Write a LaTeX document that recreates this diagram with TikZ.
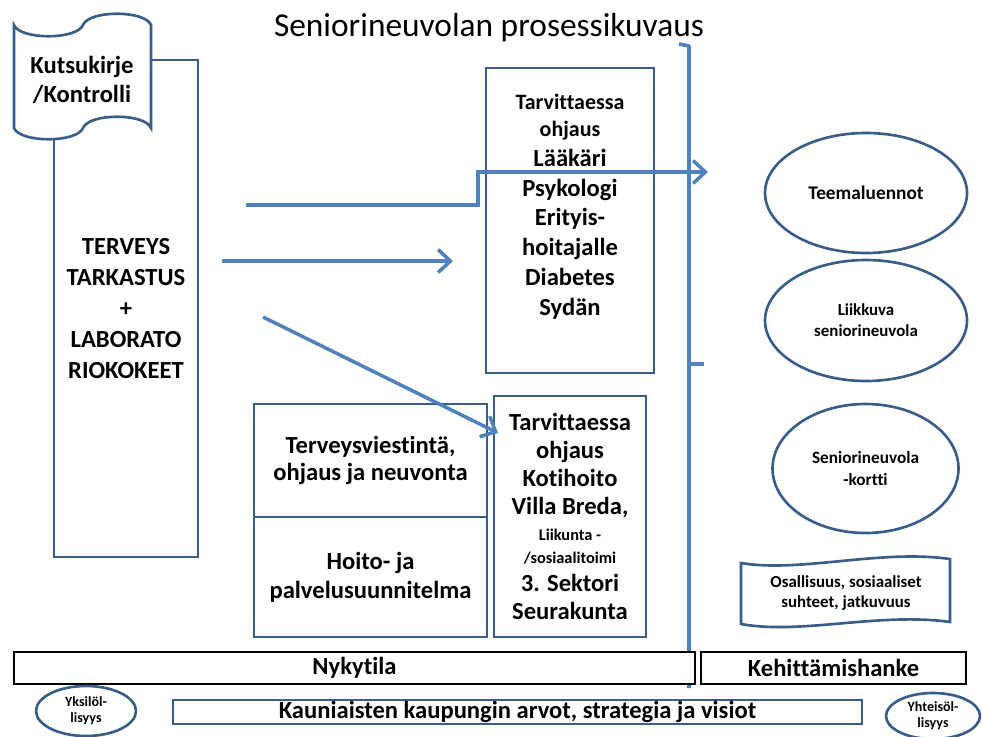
\documentclass[tikz,border=0pt]{standalone}
\usepackage{fontspec}
\setmainfont{Carlito}[Ligatures=NoCommon]
\usetikzlibrary{arrows.meta,shapes.geometric}
\definecolor{boxblue}{HTML}{385D8A}
\definecolor{linkblue}{HTML}{4F81BD}
\def\pxu{0.02cm}
\begin{document}
\begin{tikzpicture}[x=0.02cm,y=-0.02cm,
  box/.style={draw=boxblue, line width=1.5pt, fill=white, inner sep=0pt, align=center,
    font=\bfseries\fontsize{14}{16}\selectfont},
  shapeline/.style={draw=boxblue, line width=1.5pt, fill=white},
  ell/.style={ellipse, draw=boxblue, line width=1.5pt, fill=white, inner sep=0pt, align=center},
  txt/.style={font=\bfseries\fontsize{14}{17}\selectfont, align=center},
  bar/.style={draw=black, line width=1.6pt, fill=white, inner sep=0pt, align=center,
    font=\bfseries\fontsize{14}{16}\selectfont},
  conn/.style={draw=linkblue, line width=2pt},
  arr/.style={conn, -{Straight Barb[length=7pt,width=13pt,line width=2pt]}},
]
\useasboundingbox (0,0) rectangle (982,736);

% title
\node[font=\fontsize{19}{23}\selectfont] (title) at (489,28) {Seniorineuvolan prosessikuvaus};

% left column
\node[box, minimum width=144*\pxu, minimum height=497*\pxu,
  font=\bfseries\fontsize{14}{17.6}\selectfont] (tall) at (126,308.5)
  {TERVEYS\\TARKASTUS\\+\\LABORATO\\RIOKOKEET};
\draw[shapeline] (14,25) .. controls (20,40) and (77,40) .. (83,25)
  .. controls (89,10) and (145,10) .. (151,25) -- (151,128)
  .. controls (145,113) and (89,113) .. (83,128)
  .. controls (77,143) and (20,143) .. (14,128) -- cycle;
\node[txt, font=\bfseries\fontsize{14}{16.5}\selectfont] (kutsu) at (82,80) {Kutsukirje\\/Kontrolli};

% upper middle box
\node[box, minimum width=168*\pxu, minimum height=305*\pxu] (b1) at (570,220.5) {};
\node[txt] (b1t) at (570,207)
  {{\fontsize{12.5}{15}\selectfont Tarvittaessa}\\[-2pt]{\fontsize{12.5}{15}\selectfont ohjaus}\\Lääkäri\\Psykologi\\Erityis-\\hoitajalle\\Diabetes\\Sydän};

% lower boxes
\node[box, minimum width=233*\pxu, minimum height=113*\pxu,
  font=\bfseries\fontsize{14}{15}\selectfont] (b3a) at (370.5,460.5)
  {Terveysviestintä,\\ohjaus ja neuvonta};
\node[box, minimum width=233*\pxu, minimum height=120*\pxu,
  font=\bfseries\fontsize{14}{16.4}\selectfont] (b3b) at (370.5,577)
  {Hoito- ja\\palvelusuunnitelma};
\node[box, minimum width=152*\pxu, minimum height=241*\pxu] (b2) at (570,516.5)
  {Tarvittaessa\\ohjaus\\Kotihoito\\Villa Breda,\\[-1pt]{\fontsize{9.3}{11}\selectfont Liikunta -}\\[-3pt]{\fontsize{9.3}{11}\selectfont /sosiaalitoimi}\\3. Sektori\\Seurakunta};

% right column
\node[ell, minimum width=202*\pxu, minimum height=120*\pxu,
  font=\bfseries\fontsize{11}{13}\selectfont] (e1) at (866,193) {Teemaluennot};
\node[ell, minimum width=202*\pxu, minimum height=121*\pxu,
  font=\bfseries\fontsize{9.6}{12}\selectfont] (e2) at (866,320.5) {Liikkuva\\seniorineuvola};
\node[ell, minimum width=186*\pxu, minimum height=129*\pxu,
  font=\bfseries\fontsize{9.8}{12}\selectfont] (e3) at (865.5,468.5) {Seniorineuvola\\-kortti};
\draw[shapeline] (741,563) .. controls (800,573) and (880,549) .. (950,559) -- (950,622)
  .. controls (880,612) and (800,635) .. (741,624) -- cycle;
\node[font=\bfseries\fontsize{9.6}{11.5}\selectfont, align=center] (osa) at (846,593)
  {Osallisuus, sosiaaliset\\suhteet, jatkuvuus};

% brace
\draw[conn, line width=2.1pt, line join=round] (679,44) -- (689,46) -- (689,688);
\draw[conn, line width=2.1pt] (689,364) -- (704,364);

% connectors
\coordinate (a1s) at (246,205);
\coordinate (a1m) at (478,172);
\coordinate (a1e) at (708,172);
\coordinate (a2s) at (222,261);
\coordinate (a2e) at (453,261);
\coordinate (a3s) at (263,317);
\coordinate (a3e) at (498,433);
\draw[arr] (a1s) -| (a1m) -- (a1e);
\draw[arr] (a2s) -- (a2e);
\draw[arr] (a3s) -- (a3e);

% bottom bars
\node[bar, minimum width=681*\pxu, minimum height=32*\pxu] (nyk) at (354.5,668) {Nykytila};
\node[bar, minimum width=265*\pxu, minimum height=32*\pxu] (keh) at (833.5,668) {Kehittämishanke};
\node[box, minimum width=689*\pxu, minimum height=24*\pxu] (kau) at (517.5,712)
  {Kauniaisten kaupungin arvot, strategia ja visiot};
\node[ell, minimum width=100*\pxu, minimum height=50*\pxu,
  font=\bfseries\fontsize{8}{9}\selectfont] (yks) at (86,711) {Yksilöl-\\lisyys};
\node[ell, minimum width=94*\pxu, minimum height=46*\pxu,
  font=\bfseries\fontsize{8}{9}\selectfont] (yht) at (933,716) {Yhteisöl-\\lisyys};
\end{tikzpicture}
\end{document}
